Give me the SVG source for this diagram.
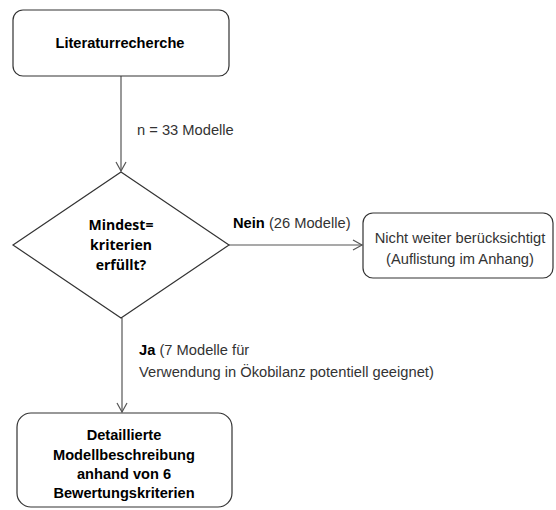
<svg xmlns="http://www.w3.org/2000/svg" width="556" height="510" viewBox="0 0 556 510">
<style>
.box{fill:#fff;stroke:#333;stroke-width:1.2}
.ln{fill:none;stroke:#555;stroke-width:1.2}
.b{font-family:"Liberation Sans",Arial,sans-serif;font-weight:bold;font-size:14.6px;fill:#000;text-anchor:middle}
.d{font-family:"Open Sans","Liberation Sans",sans-serif;font-weight:bold;font-size:14px;fill:#000;text-anchor:middle}
.t{font-family:"Liberation Sans",Arial,sans-serif;font-size:14.7px;fill:#333}
</style>
<defs>
<marker id="ah" markerWidth="12" markerHeight="12" refX="10" refY="6" orient="auto" markerUnits="userSpaceOnUse">
<path d="M1,1 L10,6 L1,11" fill="none" stroke="#555" stroke-width="1.2"/>
</marker>
</defs>
<g id="connectors">
<line class="ln" x1="121" y1="76" x2="121" y2="171" marker-end="url(#ah)"/>
<line class="ln" x1="229" y1="245" x2="362" y2="245" marker-end="url(#ah)"/>
<line class="ln" x1="122" y1="318" x2="122" y2="412" marker-end="url(#ah)"/>
<text class="t" x="137" y="135">n = 33 Modelle</text>
<text class="t" x="233" y="228"><tspan font-weight="bold" fill="#000">Nein</tspan> (26 Modelle)</text>
<text class="t" x="139" y="355"><tspan font-weight="bold" fill="#000">Ja</tspan> (7 Modelle für</text>
<text class="t" x="139" y="377">Verwendung in Ökobilanz potentiell geeignet)</text>
</g>
<g id="literatur">
<rect class="box" x="13" y="10" width="216" height="66" rx="10"/>
<text class="b" x="120" y="48">Literaturrecherche</text>
</g>
<g id="decision">
<polygon class="box" points="121,172 229,245 121,318 13,245"/>
<text class="d" x="121" y="230">Mindest=</text>
<text class="d" x="121" y="250">kriterien</text>
<text class="d" x="121" y="270">erfüllt?</text>
</g>
<g id="nicht">
<rect class="box" x="363" y="213" width="190" height="65" rx="10"/>
<text class="t" x="460" y="243" text-anchor="middle">Nicht weiter berücksichtigt</text>
<text class="t" x="460" y="264" text-anchor="middle">(Auflistung im Anhang)</text>
</g>
<g id="detail">
<rect class="box" x="17" y="413" width="215" height="94" rx="14"/>
<text class="b" x="124" y="440">Detaillierte</text>
<text class="b" x="124" y="460">Modellbeschreibung</text>
<text class="b" x="124" y="479">anhand von 6</text>
<text class="b" x="124" y="498">Bewertungskriterien</text>
</g>
</svg>
